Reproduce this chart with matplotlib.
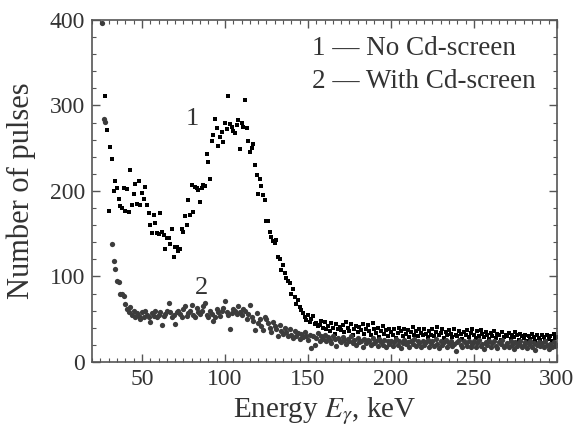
import numpy as np
import matplotlib
matplotlib.use('Agg')
import matplotlib.pyplot as plt
from matplotlib.ticker import MultipleLocator

# Fonts - Times-like serif for everything
plt.rcParams['font.family'] = 'Liberation Serif'
plt.rcParams['mathtext.fontset'] = 'stix'

# Series 1 - no Cd-screen, one channel per keV starting at 28 keV
counts_no_screen = [
    311, 271,
    176, 252, 237, 200, 212, 204, 191, 182, 180, 203,
    177, 202, 175, 225, 184, 197, 208, 185, 212, 184,
    198, 191, 205, 184, 174, 160, 151, 172, 163, 151,
    150, 174, 152, 148, 132, 145, 145, 138, 156, 123,
    135, 134, 130, 132, 156, 152, 171, 160, 190, 172,
    207, 175, 205, 204, 201, 187, 204, 207, 206, 243,
    234, 214, 259, 266, 284, 274, 253, 263, 269, 257,
    280, 272, 311, 278, 275, 270, 268, 277, 283, 249,
    280, 275, 306, 274, 259, 246, 250, 255, 230, 219,
    197, 214, 206, 195, 190, 165, 165, 152, 146, 142,
    139, 143, 123, 121, 108, 113, 104, 98, 95, 92,
    80, 85, 76, 68, 72, 64, 61, 57, 52, 49,
    55, 47, 50, 54, 44, 46, 42, 43, 48, 40,
    47, 38, 42, 36, 45, 40, 33, 44, 39, 41,
    37, 43, 35, 47, 40, 36, 44, 32, 38, 42,
    35, 41, 37, 44, 33, 39, 43, 36, 31, 45,
    38, 34, 40, 29, 36, 42, 33, 37, 30, 39,
    35, 31, 38, 28, 34, 40, 36, 30, 38, 33,
    37, 29, 35, 41, 32, 36, 30, 38, 34, 31,
    39, 33, 29, 36, 32, 38, 30, 35, 41, 31,
    34, 38, 28, 35, 31, 37, 33, 29, 38, 32,
    30, 36, 33, 27, 35, 31, 37, 29, 34, 39,
    32, 28, 36, 30, 37, 33, 29, 35, 31, 27,
    34, 30, 36, 28, 33, 31, 26, 35, 29, 32,
    30, 34, 27, 32, 29, 35, 31, 26, 33, 30,
    28, 32, 25, 30, 27, 33, 29, 24, 31, 28,
    26, 31, 29, 24, 32, 27, 30, 25, 33, 28,
    29,
]
energy_no_screen = 28 + np.arange(len(counts_no_screen))

# Series 2 - with Cd-screen, starting at 26 keV (nan = no point)
nan = np.nan
counts_screen = [
    397, 284, 281, nan,
    nan, nan, 138, 118, 109, 95, 93, 79, 80, 77,
    68, 62, 58, 64, 55, 60, 52, 57, 54, 50,
    58, 53, 60, 55, 52, 47, 57, 54, 60, 52,
    55, 58, 43, 54, 56, 60, 69, 58, 52, 55,
    44, 58, 60, 56, 53, 62, 65, 54, 57, 60,
    67, 55, 52, 63, 58, 56, 60, 66, 69, 55,
    53, 60, 56, 48, 52, 62, 58, 54, 60, 63,
    71, 58, 55, 39, 57, 62, 60, 56, 65, 58,
    55, 62, 60, 50, 56, 67, 52, 48, 37, 57,
    45, 50, 42, 37, 53, 50, 45, 40, 35, 47,
    42, 38, 30, 43, 36, 33, 40, 35, 30, 38,
    32, 28, 36, 30, 34, 27, 33, 29, 35, 30,
    26, 32, 16, 30, 20, 28, 34, 25, 30, 27,
    32, 24, 29, 26, 22, 30, 27, 19, 28, 25,
    23, 29, 26, 21, 27, 24, 30, 22, 26, 20,
    28, 23, 25, 18, 27, 22, 26, 24, 20, 28,
    22, 25, 19, 27, 23, 20, 26, 17, 24, 21,
    25, 19, 23, 27, 20, 24, 16, 22, 26, 21,
    23, 18, 25, 21, 27, 19, 24, 22, 17, 25,
    20, 23, 26, 18, 22, 24, 19, 27, 21, 16,
    24, 20, 23, 26, 18, 22, 25, 19, 21, 13,
    23, 26, 20, 17, 24, 22, 19, 25, 18, 21,
    24, 17, 22, 26, 19, 21, 15, 23, 20, 24,
    18, 22, 25, 19, 16, 23, 21, 26, 18, 20,
    22, 17, 24, 20, 15, 23, 19, 21, 25, 17,
    20, 23, 16, 21, 24, 18, 22, 14, 20, 23,
    19, 22, 17, 24, 20, 15, 21, 18, 23, 19,
    20,
]
energy_screen = 26 + np.arange(len(counts_screen))

legend_lines = ['1 \u2014 No Cd-screen', '2 \u2014 With Cd-screen']
text_color = '#333333'

fig = plt.figure(figsize=(5.76, 4.34), dpi=100)
ax = fig.add_axes([0.16, 0.166, 0.807, 0.788])

ax.plot(energy_no_screen, counts_no_screen, 's', color='black',
        markersize=3.4, markeredgewidth=0)
ax.plot(energy_screen, counts_screen, 'o', color='#3c3c3c',
        markersize=3.8, markeredgewidth=0)

# curve labels
ax.text(80.5, 284, '1', fontsize=19, color=text_color, ha='center', va='center')
ax.text(86, 87, '2', fontsize=19, color=text_color, ha='center', va='center')

# legend written as plain text
ax.text(0.473, 0.918, legend_lines[0], transform=ax.transAxes, fontsize=19.5,
        color=text_color, va='center', ha='left')
ax.text(0.473, 0.819, legend_lines[1], transform=ax.transAxes, fontsize=19.5,
        color=text_color, va='center', ha='left')

ax.set_xlim(20, 300)
ax.set_ylim(0, 400)
ax.xaxis.set_major_locator(MultipleLocator(50))
ax.xaxis.set_minor_locator(MultipleLocator(5))
ax.yaxis.set_major_locator(MultipleLocator(100))
ax.yaxis.set_minor_locator(MultipleLocator(20))

ax.tick_params(which='both', direction='in', top=True, right=True,
               colors='#555555', labelcolor=text_color, labelsize=17)
ax.tick_params(which='major', length=6, width=1, pad=5)
ax.tick_params(which='minor', length=3, width=0.8)
for spine in ax.spines.values():
    spine.set_color('#555555')
    spine.set_linewidth(1.2)

ax.set_xlabel(r'Energy $E_\gamma$, keV', fontsize=21, color=text_color, labelpad=4)
ax.set_ylabel('Number of pulses', fontsize=22, color=text_color, labelpad=10)

plt.savefig('out.png', dpi=100)
